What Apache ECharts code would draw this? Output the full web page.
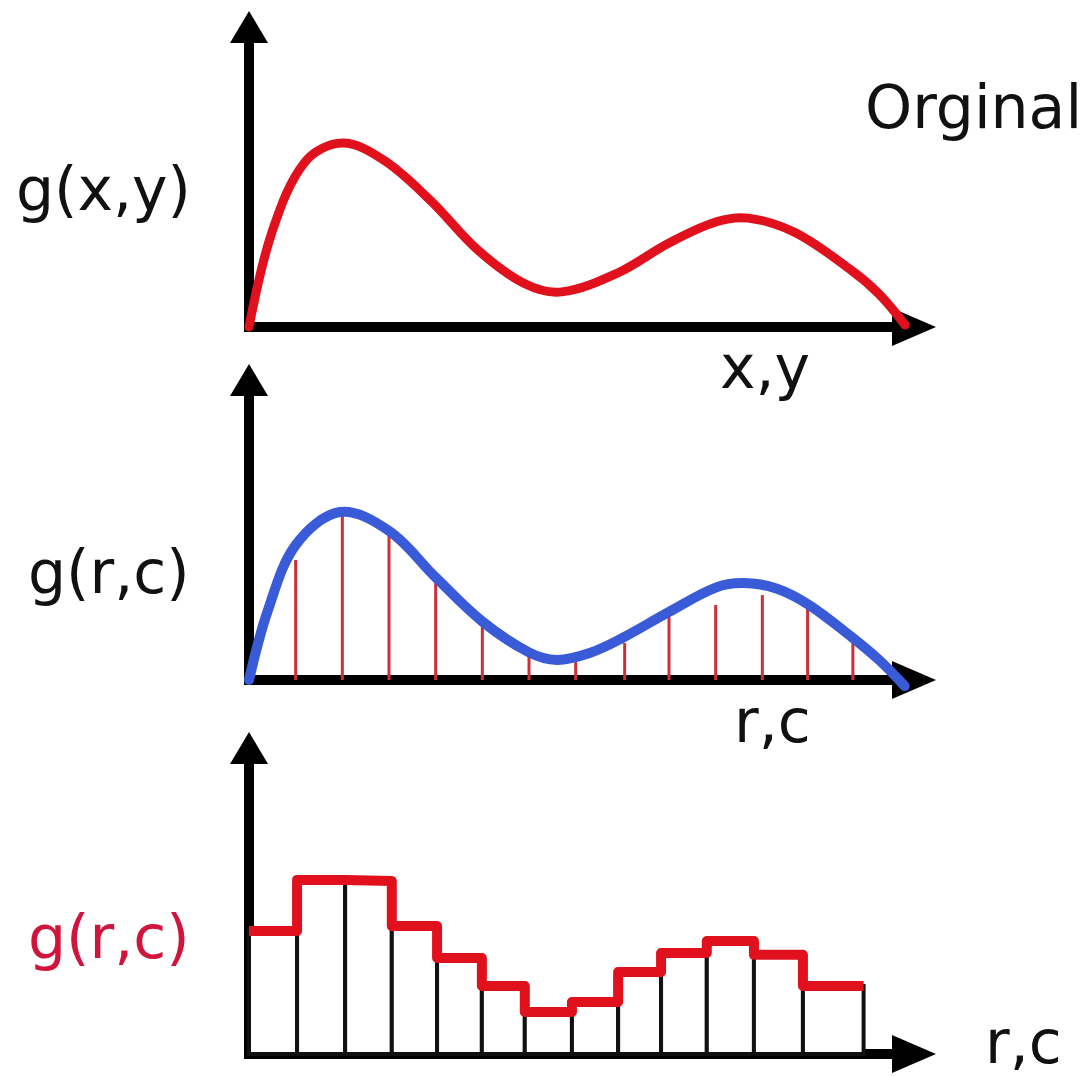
<!DOCTYPE html>
<html>
<head>
<meta charset="utf-8">
<script src="https://cdn.jsdelivr.net/npm/echarts@6/dist/echarts.min.js"></script>
<style>
  html, body { margin: 0; padding: 0; background: #fff; }
  #chart { width: 1092px; height: 1077px; }
</style>
</head>
<body>
<div id="chart"></div>
<script>
// top panel: continuous signal g(x,y)
const origX = [0, 0.5, 1.2, 2.0, 2.9, 3.9, 4.9, 5.9, 6.7, 7.9, 9.0, 10.0, 10.7, 11.7, 12.9, 13.5, 14.06];
const origY = [0, 3.2, 5.5, 6.13, 5.55, 4.2, 2.57, 1.45, 1.17, 1.8, 2.8, 3.5, 3.63, 3.15, 1.9, 1.1, 0.07];

// middle panel: same curve, sampled
const curveX = [0, 0.4, 1.0, 1.95, 3.0, 4.0, 5.0, 6.0, 6.6, 7.3, 8.0, 9.0, 10.0, 10.6, 11.3, 12.0, 12.9, 13.5, 14.05];
const curveY = [0, 2.3, 4.5, 5.6, 4.97, 3.42, 1.95, 0.92, 0.67, 0.9, 1.4, 2.27, 3.08, 3.23, 3.05, 2.5, 1.45, 0.67, -0.2];
const sampleX = [1, 2, 3, 4, 5, 6, 7, 8.05, 9, 10, 11, 11.97, 12.94];
const sampleY = [4.0, 5.57, 4.93, 3.23, 1.93, 0.9, 0.77, 1.23, 2.33, 2.5, 2.83, 2.43, 1.27];

// bottom panel: quantized bins
const binEdges = [0, 1.03, 2.06, 3.06, 4.03, 4.99, 5.91, 6.92, 7.91, 8.83, 9.81, 10.82, 11.87, 13.17];
const binHeights = [4.02, 5.69, 5.65, 4.18, 3.14, 2.22, 1.37, 1.70, 2.68, 3.30, 3.69, 3.24, 2.22];

const yLabels = ['g(x,y)', 'g(r,c)', 'g(r,c)'];
const xLabels = ['x,y', 'r,c', 'r,c'];
const cornerLabel = 'Orginal';

const X_MAX = 14.25;
const Y_MAX = 10;

const chart = echarts.init(document.getElementById('chart'));

function xAxis(gridIndex) {
  return {
    type: 'value',
    gridIndex: gridIndex,
    min: 0,
    max: X_MAX,
    axisLine: {
      show: true,
      onZero: false,
      symbol: ['none', 'triangle'],
      symbolSize: [38, 44],
      lineStyle: { color: '#000', width: 10, cap: 'square' }
    },
    axisTick: { show: false },
    axisLabel: { show: false },
    splitLine: { show: false }
  };
}

function yAxis(gridIndex) {
  return {
    type: 'value',
    gridIndex: gridIndex,
    min: 0,
    max: Y_MAX,
    axisLine: {
      show: true,
      onZero: false,
      symbol: ['none', 'triangle'],
      symbolSize: [38, 32],
      lineStyle: { color: '#000', width: 10 }
    },
    axisTick: { show: false },
    axisLabel: { show: false },
    splitLine: { show: false }
  };
}

const zip = (xs, ys) => xs.map((x, i) => [x, ys[i]]);

// one smooth path through all points of the series (drawn on the first item only)
function curveSeries(gridIndex, xs, ys, color, width) {
  return {
    type: 'custom',
    xAxisIndex: gridIndex,
    yAxisIndex: gridIndex,
    data: zip(xs, ys),
    z: 3,
    renderItem: function (params, api) {
      if (params.dataIndexInside !== 0) return null;
      const pts = [];
      for (let i = 0; i < params.dataInsideLength; i++) {
        pts.push(api.coord([api.value(0, i), api.value(1, i)]));
      }
      return {
        type: 'polyline',
        shape: { points: pts, smooth: 0.35 },
        style: { stroke: color, lineWidth: width, fill: 'none', lineCap: 'round', lineJoin: 'round' }
      };
    }
  };
}

const stepData = binEdges.map((e, i) => [e, binHeights[Math.min(i, binHeights.length - 1)]]);
const binData = binHeights.map((h, i) => [binEdges[i], binEdges[i + 1], h]);

const label = (text, x, y, color) => ({
  type: 'text',
  x: x,
  y: y,
  style: {
    text: text,
    fill: color || '#111',
    fontSize: 60,
    fontFamily: 'DejaVu Sans',
    align: 'left',
    verticalAlign: 'middle'
  }
});

const option = {
  backgroundColor: '#fff',
  animation: false,
  grid: [
    { left: 249, top: 27, width: 665, height: 300, outerBoundsMode: 'none' },
    { left: 249, top: 380, width: 665, height: 300, outerBoundsMode: 'none' },
    { left: 249, top: 748, width: 665, height: 306, outerBoundsMode: 'none' }
  ],
  xAxis: [xAxis(0), xAxis(1), xAxis(2)],
  yAxis: [yAxis(0), yAxis(1), yAxis(2)],
  series: [
    curveSeries(0, origX, origY, '#e0101c', 9),
    {
      type: 'bar',
      xAxisIndex: 1,
      yAxisIndex: 1,
      data: zip(sampleX, sampleY),
      barWidth: 3,
      itemStyle: { color: '#c8303a' }
    },
    curveSeries(1, curveX, curveY, '#3a5bd8', 10),
    {
      type: 'custom',
      xAxisIndex: 2,
      yAxisIndex: 2,
      data: binData,
      renderItem: function (params, api) {
        const p0 = api.coord([api.value(0), 0]);
        const p1 = api.coord([api.value(1), api.value(2)]);
        return {
          type: 'rect',
          shape: { x: p0[0], y: p1[1], width: p1[0] - p0[0], height: p0[1] - p1[1] },
          style: { fill: '#fff', stroke: '#111', lineWidth: 4 }
        };
      }
    },
    {
      type: 'line',
      xAxisIndex: 2,
      yAxisIndex: 2,
      data: stepData,
      step: 'end',
      showSymbol: false,
      clip: false,
      z: 3,
      lineStyle: { color: '#e0101c', width: 10, join: 'round' }
    }
  ],
  graphic: [
    label(yLabels[0], 16, 194),
    label(cornerLabel, 865, 112),
    label(xLabels[0], 720, 372),
    label(yLabels[1], 28, 577),
    label(xLabels[1], 734, 726),
    label(yLabels[2], 28, 942, '#d0143c'),
    label(xLabels[2], 985, 1047)
  ]
};

chart.setOption(option);
window.addEventListener('resize', () => chart.resize());
</script>
</body>
</html>
